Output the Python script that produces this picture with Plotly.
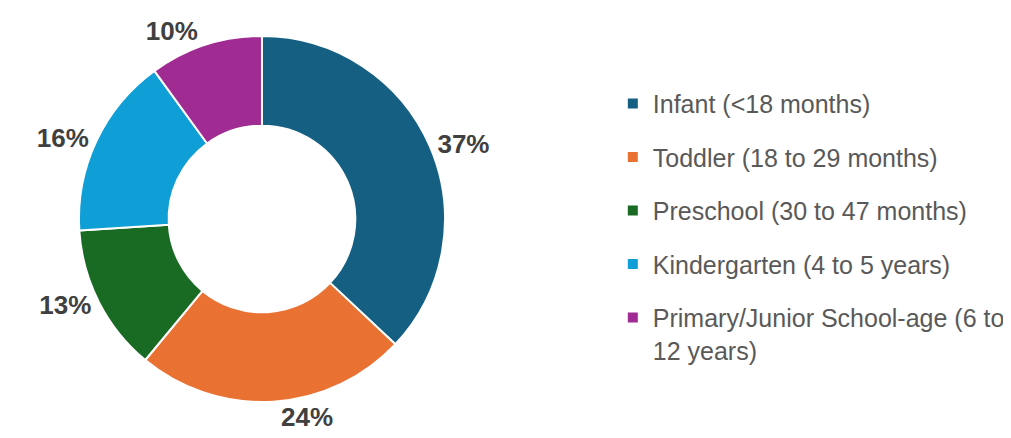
import plotly.graph_objects as go

categories = ["Infant (<18 months)", "Toddler (18 to 29 months)", "Preschool (30 to 47 months)",
              "Kindergarten (4 to 5 years)", "Primary/Junior School-age (6 to<br>12 years)"]
values = [37, 24, 13, 16, 10]
colors = ["#156082", "#E97132", "#196B24", "#0F9ED5", "#A02B93"]

fig = go.Figure()
fig.add_trace(go.Pie(
    labels=categories, values=values, hole=0.51, sort=False, direction="clockwise",
    rotation=0, marker=dict(colors=colors, line=dict(color="white", width=2)),
    textinfo="percent", texttemplate="%{percent:.0%}", textposition="outside",
    textfont=dict(family="Liberation Sans, Arial", size=26, color="#404040", weight="bold"),
    showlegend=False, domain=dict(x=[0.0707, 0.4357], y=[0.0837, 0.9349]), hoverinfo="label+percent",
))
for c, col in zip(categories, colors):
    fig.add_trace(go.Scatter(x=[None], y=[None], mode="markers", name=c, legendgroup=c,
                             marker=dict(symbol="square", size=10, color=col)))

fig.update_layout(
    width=1003, height=430, margin=dict(l=0, r=0, t=0, b=0, autoexpand=False),
    paper_bgcolor="white", plot_bgcolor="white",
    xaxis=dict(visible=False), yaxis=dict(visible=False),
    legend=dict(x=0.603, y=0.831, xanchor="left", yanchor="top", tracegroupgap=18,
                valign="top",
                font=dict(family="Liberation Sans, Arial", size=25, color="#595959"),
                itemclick=False),
    font=dict(family="Liberation Sans, Arial"),
)
fig.write_html("out.html")
